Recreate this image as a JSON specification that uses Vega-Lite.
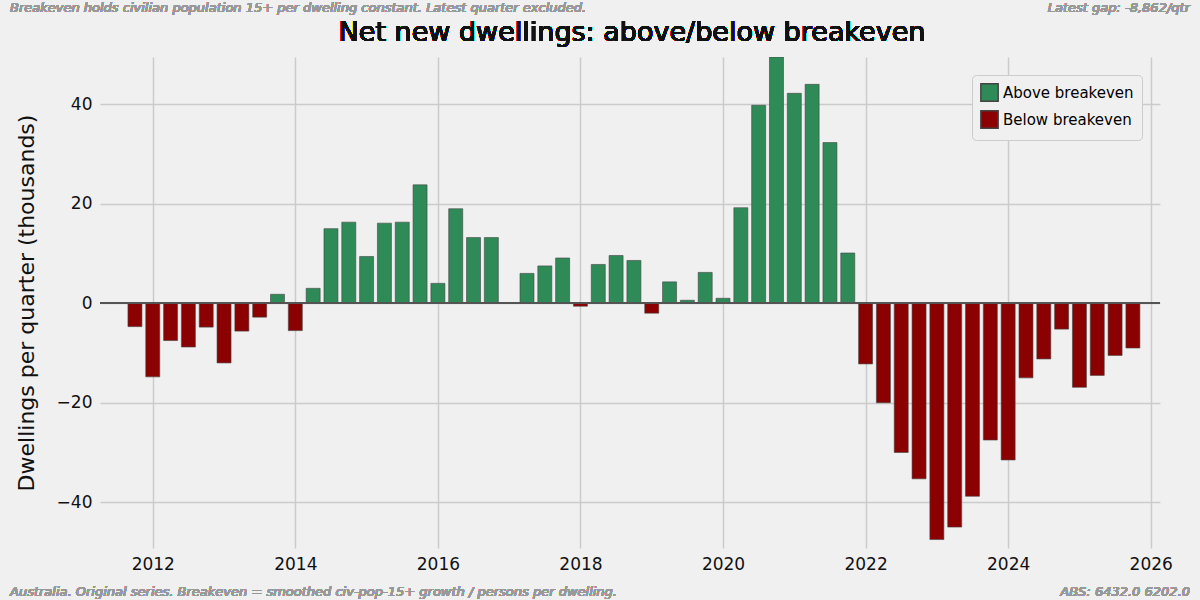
{
  "$schema": "https://vega.github.io/schema/vega-lite/v6.json",
  "width": 1060,
  "height": 491,
  "autosize": "none",
  "padding": {"left": 100, "top": 57, "right": 40, "bottom": 52},
  "background": "#f0f0f0",
  "data": {
    "values": [
      {"t": 2011.75, "v": -4.7}, {"t": 2012.0, "v": -14.8}, {"t": 2012.25, "v": -7.5}, {"t": 2012.5, "v": -8.8},
      {"t": 2012.75, "v": -4.8}, {"t": 2013.0, "v": -12.0}, {"t": 2013.25, "v": -5.6}, {"t": 2013.5, "v": -2.8},
      {"t": 2013.75, "v": 1.8}, {"t": 2014.0, "v": -5.5}, {"t": 2014.25, "v": 3.0}, {"t": 2014.5, "v": 15.0},
      {"t": 2014.75, "v": 16.3}, {"t": 2015.0, "v": 9.4}, {"t": 2015.25, "v": 16.1}, {"t": 2015.5, "v": 16.3},
      {"t": 2015.75, "v": 23.8}, {"t": 2016.0, "v": 4.0}, {"t": 2016.25, "v": 19.0}, {"t": 2016.5, "v": 13.2},
      {"t": 2016.75, "v": 13.2}, {"t": 2017.0, "v": 0.0}, {"t": 2017.25, "v": 6.0}, {"t": 2017.5, "v": 7.5},
      {"t": 2017.75, "v": 9.1}, {"t": 2018.0, "v": -0.6}, {"t": 2018.25, "v": 7.8}, {"t": 2018.5, "v": 9.6},
      {"t": 2018.75, "v": 8.6}, {"t": 2019.0, "v": -2.0}, {"t": 2019.25, "v": 4.3}, {"t": 2019.5, "v": 0.6},
      {"t": 2019.75, "v": 6.2}, {"t": 2020.0, "v": 1.0}, {"t": 2020.25, "v": 19.2}, {"t": 2020.5, "v": 39.8},
      {"t": 2020.75, "v": 49.5}, {"t": 2021.0, "v": 42.2}, {"t": 2021.25, "v": 44.0}, {"t": 2021.5, "v": 32.3},
      {"t": 2021.75, "v": 10.1}, {"t": 2022.0, "v": -12.2}, {"t": 2022.25, "v": -20.0}, {"t": 2022.5, "v": -30.0},
      {"t": 2022.75, "v": -35.3}, {"t": 2023.0, "v": -47.5}, {"t": 2023.25, "v": -45.0}, {"t": 2023.5, "v": -38.8},
      {"t": 2023.75, "v": -27.5}, {"t": 2024.0, "v": -31.5}, {"t": 2024.25, "v": -15.0}, {"t": 2024.5, "v": -11.2},
      {"t": 2024.75, "v": -5.2}, {"t": 2025.0, "v": -16.9}, {"t": 2025.25, "v": -14.5}, {"t": 2025.5, "v": -10.5},
      {"t": 2025.75, "v": -9.0}
    ]
  },
  "transform": [
    {"calculate": "datum.v >= 0 ? 'Above breakeven' : 'Below breakeven'", "as": "side"}
  ],
  "layer": [
    {
      "mark": {"type": "bar", "width": 14, "stroke": "#444444", "strokeWidth": 0.6, "clip": true},
      "encoding": {
        "x": {
          "field": "t", "type": "quantitative",
          "scale": {"domain": [2011.33, 2026.06], "nice": false, "zero": false},
          "axis": {"values": [2012, 2014, 2016, 2018, 2020, 2022, 2024, 2026], "format": "d", "title": null}
        },
        "y": {
          "field": "v", "type": "quantitative",
          "scale": {"domain": [-49.2, 49.5], "nice": false},
          "axis": {"values": [-40, -20, 0, 20, 40], "title": "Dwellings per quarter (thousands)"}
        },
        "color": {
          "field": "side", "type": "nominal",
          "scale": {"domain": ["Above breakeven", "Below breakeven"], "range": ["#2e8b57", "#8b0000"]},
          "legend": {
            "title": null, "orient": "top-right", "symbolType": "square", "symbolSize": 300,
            "labelFontSize": 15, "fillColor": "#f0f0f0", "strokeColor": "#cccccc", "padding": 8,
            "cornerRadius": 4, "labelFont": "DejaVu Sans"
          }
        }
      }
    },
    {
      "mark": {"type": "rule", "color": "#555555", "strokeWidth": 1},
      "encoding": {"y": {"datum": 0}}
    },
    {
      "mark": {"type": "text", "align": "center", "fontSize": 27, "font": "DejaVu Sans", "color": "#111111"},
      "encoding": {"x": {"value": 532}, "y": {"value": -24}, "text": {"value": "Net new dwellings: above/below breakeven"}}
    },
    {
      "mark": {"type": "text", "align": "left", "fontSize": 13, "fontStyle": "italic", "font": "DejaVu Sans", "color": "#999999"},
      "encoding": {"x": {"value": -90}, "y": {"value": -49}, "text": {"value": "Breakeven holds civilian population 15+ per dwelling constant. Latest quarter excluded."}}
    },
    {
      "mark": {"type": "text", "align": "right", "fontSize": 13, "fontStyle": "italic", "font": "DejaVu Sans", "color": "#999999"},
      "encoding": {"x": {"value": 1090}, "y": {"value": -49}, "text": {"value": "Latest gap: -8,862/qtr"}}
    },
    {
      "mark": {"type": "text", "align": "left", "fontSize": 13, "fontStyle": "italic", "font": "DejaVu Sans", "color": "#999999"},
      "encoding": {"x": {"value": -90}, "y": {"value": 535}, "text": {"value": "Australia. Original series. Breakeven = smoothed civ-pop-15+ growth / persons per dwelling."}}
    },
    {
      "mark": {"type": "text", "align": "right", "fontSize": 13, "fontStyle": "italic", "font": "DejaVu Sans", "color": "#999999"},
      "encoding": {"x": {"value": 1090}, "y": {"value": 535}, "text": {"value": "ABS: 6432.0 6202.0"}}
    }
  ],
  "config": {
    "view": {"stroke": null},
    "font": "DejaVu Sans",
    "axis": {
      "labelFontSize": 17, "labelColor": "#111111", "titleFontSize": 22, "titleFontWeight": "normal",
      "titleColor": "#111111", "gridColor": "#cbcbcb", "gridWidth": 1.5, "domain": false, "ticks": false,
      "labelPadding": 8, "labelFont": "DejaVu Sans", "titleFont": "DejaVu Sans"
    },
    "axisY": {"titlePadding": 18}
  }
}
